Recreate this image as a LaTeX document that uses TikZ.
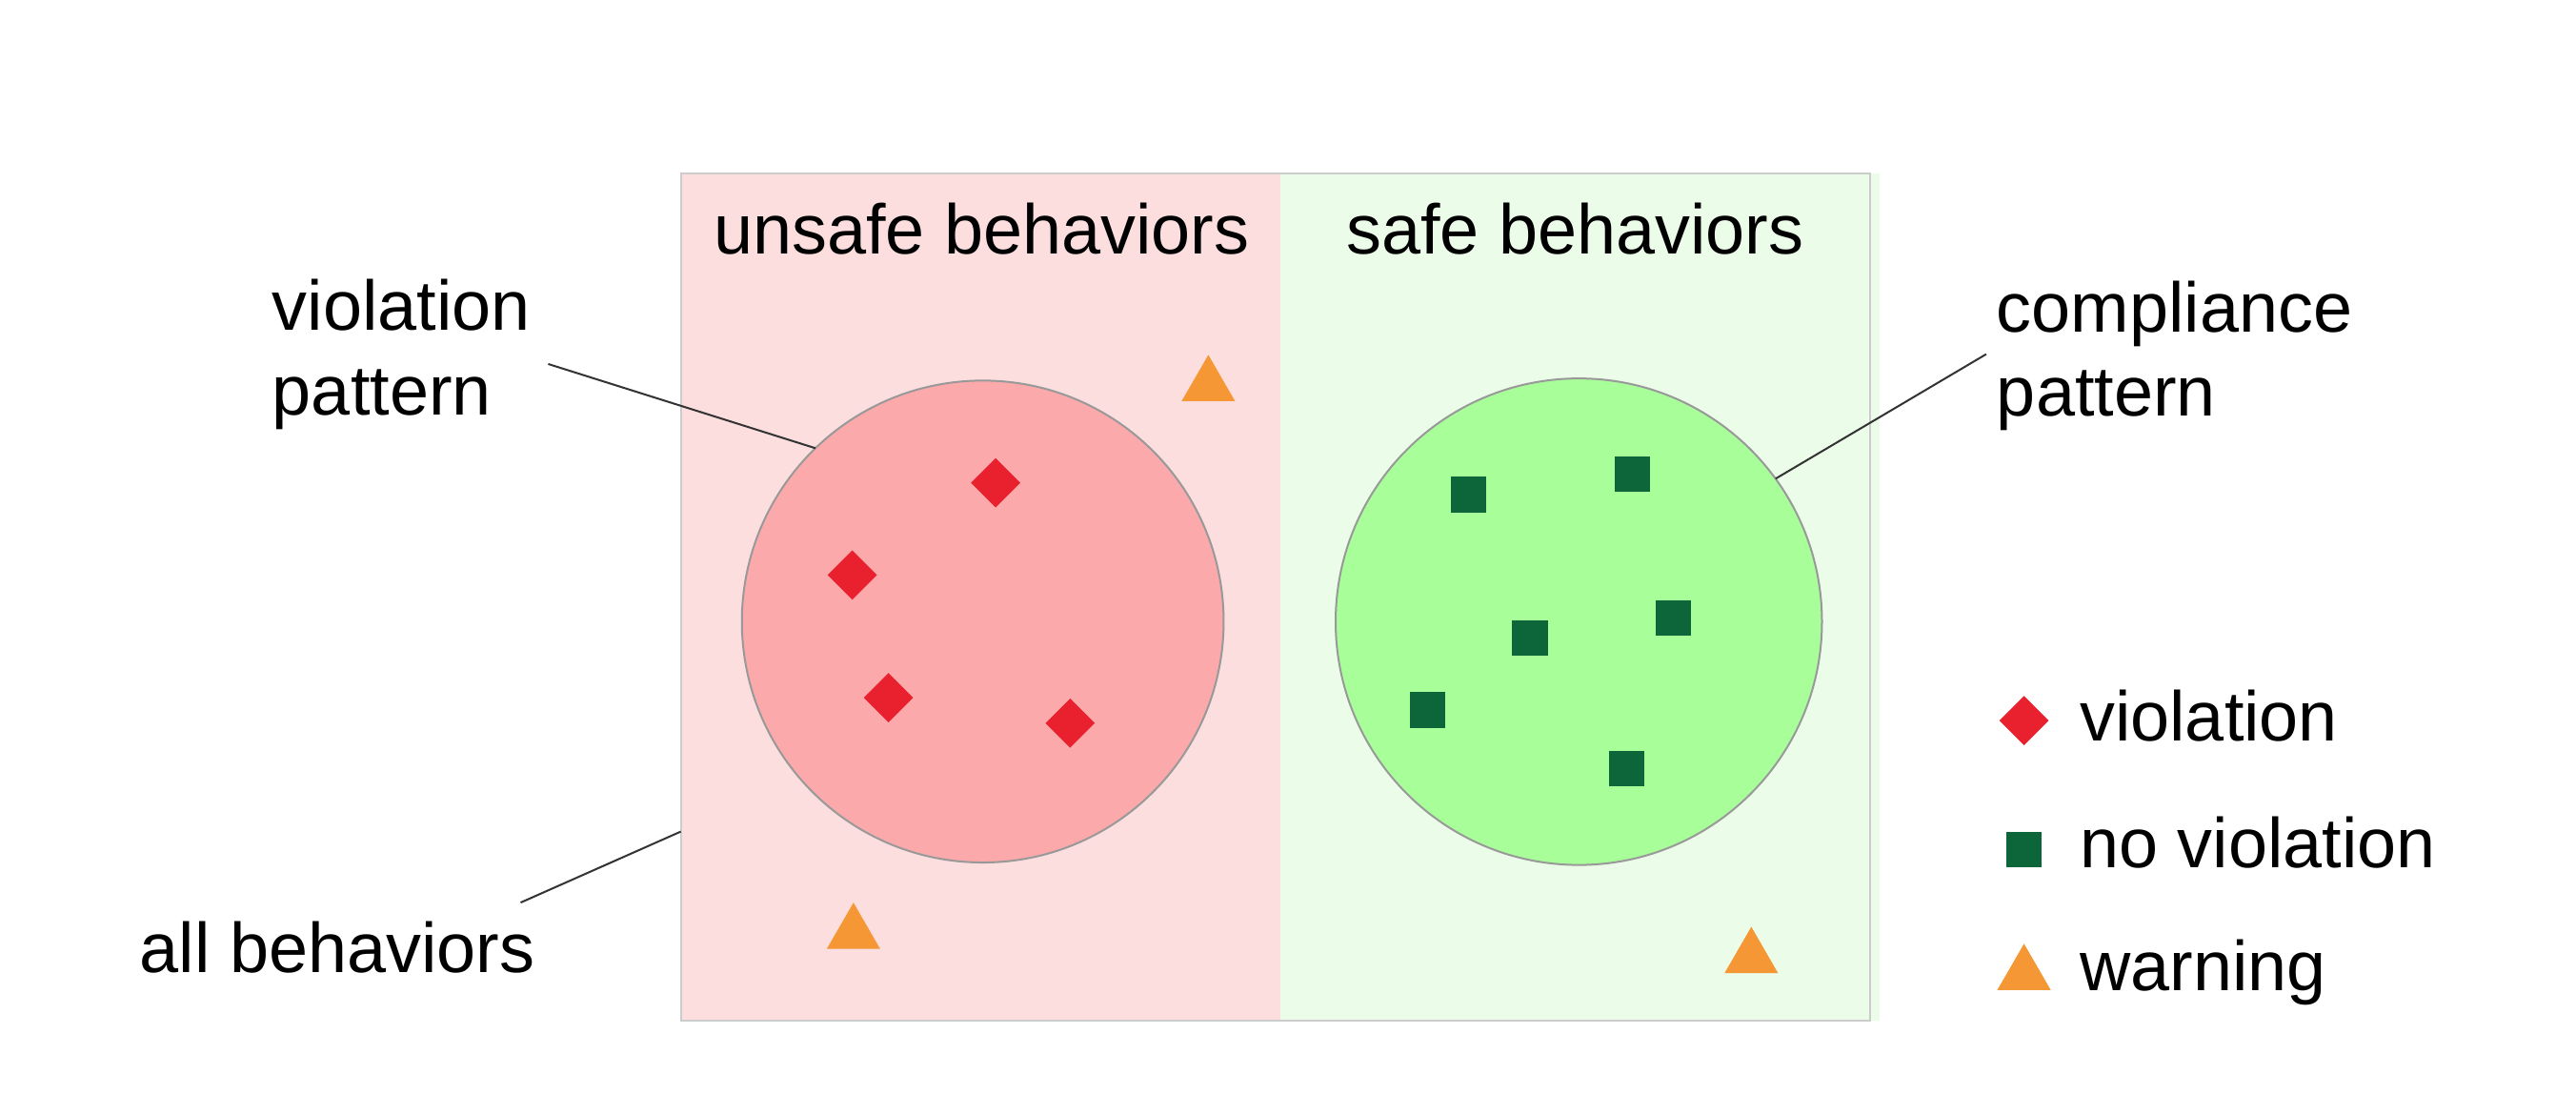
\documentclass[tikz,border=0pt]{standalone}
\usepackage{fontspec}
\setmainfont{Liberation Sans}
\usetikzlibrary{shapes.geometric}
\definecolor{pinkbg}{HTML}{FCDEDF}
\definecolor{pinkcirc}{HTML}{FBA9AA}
\definecolor{viored}{HTML}{E9202D}
\definecolor{greenbg}{HTML}{EBFDE9}
\definecolor{greencirc}{HTML}{A8FF9A}
\definecolor{okgreen}{HTML}{0C663A}
\definecolor{warnorange}{HTML}{F59734}
\definecolor{boxgray}{HTML}{CCCCCC}
\definecolor{circgray}{HTML}{999999}
\definecolor{leadgray}{HTML}{333333}
\begin{document}
\begin{tikzpicture}[x=0.017245cm,y=-0.017245cm,
  every node/.style={inner sep=0pt,outer sep=0pt},
  txt/.style={font=\fontsize{21}{25.2}\selectfont,align=left},
  pattern circle/.style={circle,draw=circgray,line width=0.57pt},
  viomark/.style={diamond,fill=viored,minimum width=0.517cm,minimum height=0.517cm},
  okmark/.style={rectangle,fill=okgreen,minimum size=0.372cm},
  warnmark/.style={regular polygon,regular polygon sides=3,fill=warnorange,minimum size=0.647cm},
  leader/.style={draw=leadgray,line width=0.57pt}]
\useasboundingbox (0,0) rectangle (1568,678);
% regions
\fill[pinkbg] (414.4,105.5) rectangle (779.3,621);
\fill[greenbg] (779.3,105.5) rectangle (1144,621);
\node[draw=boxgray,line width=0.57pt,minimum width=12.484cm,minimum height=8.890cm] (allbox) at (776.35,363.25) {};
% titles
\node[txt,anchor=base] (unsafe) at (597.5,154.7) {unsafe behaviors};
\node[txt,anchor=base] (safe) at (958.7,154.7) {safe behaviors};
% circles
\node[pattern circle,fill=pinkcirc,minimum size=5.056cm] (vcirc) at (598.2,378.2) {};
\node[pattern circle,fill=greencirc,minimum size=5.104cm] (ccirc) at (961,378.3) {};
% violations
\node[viomark] (v1) at (606,293.8) {};
\node[viomark] (v2) at (518.8,349.9) {};
\node[viomark] (v3) at (540.8,424.5) {};
\node[viomark] (v4) at (651.4,440) {};
% no violations
\node[okmark] (n1) at (893.8,301) {};
\node[okmark] (n2) at (993.5,288.6) {};
\node[okmark] (n3) at (931.3,388.3) {};
\node[okmark] (n4) at (1018.4,376) {};
\node[okmark] (n5) at (868.8,432) {};
\node[okmark] (n6) at (990.2,467.6) {};
% warnings
\node[warnmark] (w1) at (735.5,234.7) {};
\node[warnmark] (w2) at (519.5,568) {};
\node[warnmark] (w3) at (1066,582.7) {};
% labels (base anchor = baseline of the last line)
\node[txt,anchor=base west] (vlab) at (165.8,252.3) {violation\\pattern};
\node[txt,anchor=base west] (clab) at (1215.4,253.2) {compliance\\pattern};
\node[txt,anchor=base west] (alab) at (85.2,592) {all behaviors};
\coordinate (vstart) at (333.7,221.5);
\coordinate (cstart) at (1209,215.5);
\coordinate (astart) at (316.9,549.2);
\coordinate (aend) at (414.4,506);
\draw[leader] (vstart) -- (vcirc.134.8);
\draw[leader] (cstart) -- (ccirc.36.8);
\draw[leader] (astart) -- (aend);
% legend
\node[viomark] (lv) at (1232,438.5) {};
\node[okmark] (ln) at (1232,517) {};
\node[warnmark] (lw) at (1232,593) {};
\node[txt,anchor=base west] (lvt) at (1266,451) {violation};
\node[txt,anchor=base west] (lnt) at (1266,528) {no violation};
\node[txt,anchor=base west] (lwt) at (1266,603) {warning};
\end{tikzpicture}
\end{document}
